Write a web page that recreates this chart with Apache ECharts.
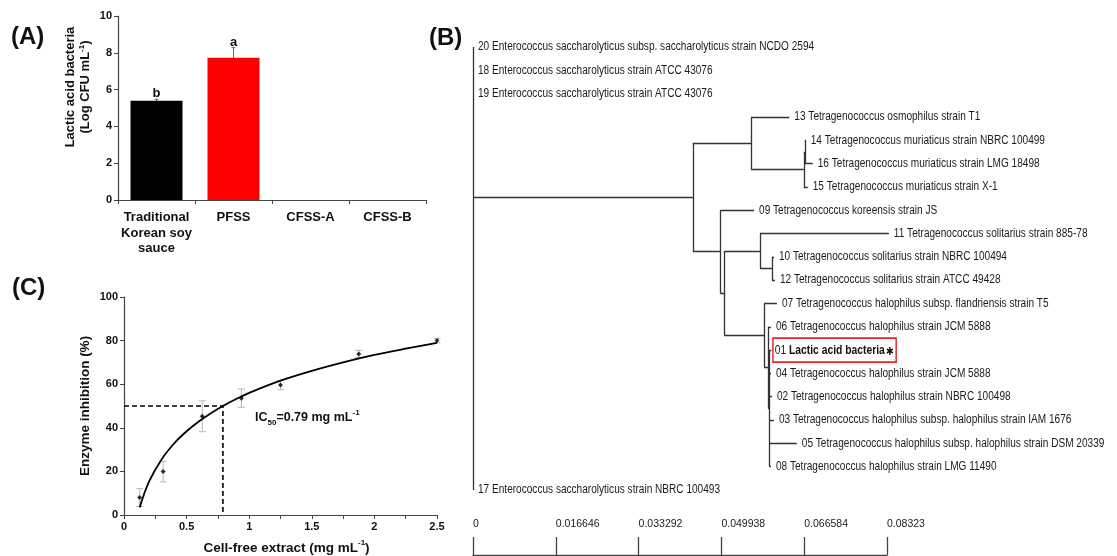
<!DOCTYPE html>
<html>
<head>
<meta charset="utf-8">
<title>Lactic acid bacteria / IC50 / tree</title>
<script src="https://cdn.jsdelivr.net/npm/echarts@6/dist/echarts.min.js"></script>
<style>
html, body { margin: 0; padding: 0; background: #fff; }
#chart { width: 1117px; height: 556px; }
</style>
</head>
<body>
<div id="chart"></div>
<script>
// (A) lactic acid bacteria counts
const sauceNames = ['Traditional\nKorean soy\nsauce', 'PFSS', 'CFSS-A', 'CFSS-B'];
const lacticCounts = [5.4, 7.73, 0, 0];
const lacticErrors = [0.08, 0.55, 0, 0];
const lacticLetters = ['b', 'a', '', ''];
const barColors = ['#000000', '#ff0000', '#000000', '#000000'];
const countTicks = [0, 10, 2];

// (C) enzyme inhibition
const extractDose = [0.125, 0.3125, 0.625, 0.9375, 1.25, 1.875, 2.5];
const inhibition = [8, 19.9, 45.3, 53.6, 59.6, 73.9, 80];
const inhibitionErr = [4.1, 4.7, 7.1, 4.2, 2.1, 1.6, 1];
const fitDose = [0.125, 0.2, 0.3, 0.4, 0.5, 0.6, 0.7, 0.79, 0.9, 1.0, 1.25, 1.5, 1.75, 2.0, 2.25, 2.5];
const fitInhibition = [3.5, 15.3, 25.5, 32.8, 38.4, 43, 46.9, 50, 53.3, 56, 61.6, 66.1, 70, 73.4, 76.3, 79];
const ic50Dose = 0.79;
const ic50Level = 50;

// (B) tree: leaves top to bottom, parent clade and distance from root
const leafLabels = [
  '20 Enterococcus saccharolyticus subsp. saccharolyticus strain NCDO 2594',
  '18 Enterococcus saccharolyticus strain ATCC 43076',
  '19 Enterococcus saccharolyticus strain ATCC 43076',
  '13 Tetragenococcus osmophilus strain T1',
  '14 Tetragenococcus muriaticus strain NBRC 100499',
  '16 Tetragenococcus muriaticus strain LMG 18498',
  '15 Tetragenococcus muriaticus strain X-1',
  '09 Tetragenococcus koreensis strain JS',
  '11 Tetragenococcus solitarius strain 885-78',
  '10 Tetragenococcus solitarius strain NBRC 100494',
  '12 Tetragenococcus solitarius strain ATCC 49428',
  '07 Tetragenococcus halophilus subsp. flandriensis strain T5',
  '06 Tetragenococcus halophilus strain JCM 5888',
  '01 Lactic acid bacteria',
  '04 Tetragenococcus halophilus strain JCM 5888',
  '02 Tetragenococcus halophilus strain NBRC 100498',
  '03 Tetragenococcus halophilus subsp. halophilus strain IAM 1676',
  '05 Tetragenococcus halophilus subsp. halophilus strain DSM 20339',
  '08 Tetragenococcus halophilus strain LMG 11490',
  '17 Enterococcus saccharolyticus strain NBRC 100493'
];
const leafParent = ['root', 'root', 'root', 'A', 'M2', 'M2', 'M', 'L', 'SOL', 'S3', 'S3',
  'HAL', 'H2', 'H3', 'H3', 'H3', 'H3', 'H3', 'H3', 'root'];
const leafDepth = [0, 0, 0, 0.0636, 0.0669, 0.0683, 0.0673, 0.0565, 0.0836, 0.0605, 0.0607,
  0.0611, 0.0599, 0.0600, 0.0599, 0.0601, 0.0605, 0.0651, 0.0599, 0];
const cladeNames = ['root', 'T', 'A', 'M', 'M2', 'L', 'S2', 'SOL', 'S3', 'HAL', 'H2', 'H3'];
const cladeParent = [null, 'root', 'T', 'A', 'M', 'T', 'L', 'S2', 'SOL', 'S2', 'HAL', 'H2'];
const cladeDepth = [0, 0.0442, 0.0559, 0.0665, 0.0667, 0.0497, 0.0505, 0.0577, 0.0601, 0.0585, 0.0593, 0.0596];
const scaleTicks = [0, 0.08323, 0.016646];

const boldFont = '"Liberation Sans", Arial, sans-serif';
const axisColor = '#444';
const narrowScale = 0.84;   // tree text is a horizontally squeezed sans

// ---- tree geometry (row units on y, distance on x)
const depthOf = {};
cladeNames.forEach((c, i) => { depthOf[c] = cladeDepth[i]; });
const rowOf = {};
const childRows = c => {
  const rows = [];
  leafParent.forEach((p, i) => { if (p === c) rows.push(i); });
  cladeParent.forEach((p, j) => { if (p === c) rows.push(cladeRow(cladeNames[j])); });
  return rows;
};
function cladeRow(c) {
  if (rowOf[c] == null) {
    const rows = childRows(c);
    rowOf[c] = (Math.min(...rows) + Math.max(...rows)) / 2;
  }
  return rowOf[c];
}
const treeSegments = [];
leafParent.forEach((p, i) => {
  if (leafDepth[i] > depthOf[p]) treeSegments.push({ coords: [[depthOf[p], i], [leafDepth[i], i]] });
});
cladeNames.forEach((c, j) => {
  const y = cladeRow(c);
  if (cladeParent[j]) treeSegments.push({ coords: [[depthOf[cladeParent[j]], y], [cladeDepth[j], y]] });
  const rows = childRows(c);
  treeSegments.push({ coords: [[cladeDepth[j], Math.min(...rows)], [cladeDepth[j], Math.max(...rows)]] });
});

const renderLeafLabel = (params, api) => {
  const name = leafLabels[params.dataIndex];
  const p = api.coord([api.value(0), api.value(1)]);
  if (name.indexOf('Lactic acid') > 0) {
    return {
      type: 'text', x: p[0] + 1.5, y: p[1], scaleX: 0.86,
      style: {
        text: '{n|01 }{b|Lactic acid bacteria}{s|✱}',
        verticalAlign: 'middle',
        borderColor: '#e3262b', borderWidth: 1.7,
        padding: [5, 3, 4, 2],
        rich: {
          n: { font: '12px ' + boldFont, fill: '#1a1a1a' },
          b: { font: 'bold 12px ' + boldFont, fill: '#111' },
          s: { font: '11px "DejaVu Sans"', fill: '#111', padding: [4, 0, 0, 1] }
        }
      }
    };
  }
  return {
    type: 'text', x: p[0] + 5, y: p[1], scaleX: narrowScale,
    style: { text: name, font: '12px ' + boldFont, fill: '#1a1a1a', verticalAlign: 'middle' }
  };
};

const chart = echarts.init(document.getElementById('chart'), null, { renderer: 'canvas' });

const valueAxisStyle = {
  axisLine: { show: true, lineStyle: { color: axisColor, width: 1.2 } },
  axisTick: { show: true, length: 4, lineStyle: { color: axisColor } },
  splitLine: { show: false },
  axisLabel: { color: '#111', fontFamily: boldFont, fontWeight: 'bold', fontSize: 11, margin: 6 }
};

chart.setOption({
  animation: false,
  backgroundColor: '#ffffff',
  grid: [
    { left: 118, top: 16, width: 308, height: 184 },
    { left: 124, top: 297, width: 313, height: 218 },
    { left: 473, top: 47, width: 0.09 * 4974, height: 443 },
    { left: 473, top: 537, width: 414, height: 18 }
  ],
  xAxis: [
    {
      gridIndex: 0, type: 'category', data: sauceNames,
      axisLine: { lineStyle: { color: axisColor, width: 1.2 } },
      axisTick: { show: true, length: 4, lineStyle: { color: axisColor } },
      axisLabel: {
        interval: 0, color: '#111', fontFamily: boldFont, fontWeight: 'bold',
        fontSize: 13, lineHeight: 15.5, margin: 10
      }
    },
    Object.assign({}, valueAxisStyle, {
      gridIndex: 1, type: 'value', min: 0, max: 2.5, interval: 0.5,
      minorTick: { show: true, splitNumber: 2, length: 4, lineStyle: { color: axisColor } },
      name: '{t|Cell-free extract (mg mL}{p|-1}{t|)}',
      nameLocation: 'middle', nameGap: 24,
      nameTextStyle: {
        padding: [0, 0, 0, 12],
        rich: {
          t: { fontFamily: boldFont, fontWeight: 'bold', fontSize: 13.5, color: '#111', lineHeight: 18 },
          p: { fontFamily: boldFont, fontWeight: 'bold', fontSize: 8, color: '#111', verticalAlign: 'top', lineHeight: 18 }
        }
      }
    }),
    { gridIndex: 2, type: 'value', min: 0, max: 0.09, show: false },
    {
      gridIndex: 3, type: 'value', min: scaleTicks[0], max: scaleTicks[1], interval: scaleTicks[2],
      axisLine: { show: true, lineStyle: { color: axisColor, width: 1.3 } },
      axisTick: { show: true, inside: true, length: 18, lineStyle: { color: axisColor, width: 1.3 } },
      splitLine: { show: false },
      axisLabel: {
        inside: true, margin: 25, align: 'left', color: '#1a1a1a',
        fontFamily: boldFont, fontSize: 10.5,
        formatter: v => String(parseFloat(v.toFixed(6)))
      }
    }
  ],
  yAxis: [
    Object.assign({}, valueAxisStyle, {
      gridIndex: 0, type: 'value', min: countTicks[0], max: countTicks[1], interval: countTicks[2]
    }),
    Object.assign({}, valueAxisStyle, {
      gridIndex: 1, type: 'value', min: 0, max: 100, interval: 20,
      name: 'Enzyme inhibition (%)', nameLocation: 'middle', nameGap: 32,
      nameTextStyle: { fontFamily: boldFont, fontWeight: 'bold', fontSize: 13.5, color: '#111' }
    }),
    { gridIndex: 2, type: 'value', min: 0, max: 19, inverse: true, show: false },
    { gridIndex: 3, type: 'value', show: false }
  ],
  series: [
    {
      type: 'bar', xAxisIndex: 0, yAxisIndex: 0, barWidth: 52,
      data: lacticCounts.map((v, i) => ({ value: v, itemStyle: { color: barColors[i] } }))
    },
    {
      type: 'custom', xAxisIndex: 0, yAxisIndex: 0,
      data: lacticCounts.map((v, i) => [i, v, lacticErrors[i]]),
      renderItem: (params, api) => {
        const v = api.value(1), e = api.value(2);
        if (!v) return null;
        const top = api.coord([api.value(0), v + e]);
        const bot = api.coord([api.value(0), v - e]);
        return {
          type: 'group',
          children: [
            { type: 'line', shape: { x1: top[0], y1: top[1], x2: bot[0], y2: bot[1] }, style: { stroke: '#666', lineWidth: 1 } },
            { type: 'line', shape: { x1: top[0] - 2, y1: top[1], x2: top[0] + 2, y2: top[1] }, style: { stroke: '#666', lineWidth: 1 } },
            {
              type: 'text', x: top[0], y: top[1] + 1,
              style: {
                text: lacticLetters[params.dataIndex], align: 'center', verticalAlign: 'bottom',
                font: 'bold 13px ' + boldFont, fill: '#111'
              }
            }
          ]
        };
      }
    },
    {
      type: 'custom', xAxisIndex: 1, yAxisIndex: 1, clip: false, z: 1,
      data: extractDose.map((x, i) => [x, inhibition[i], inhibitionErr[i]]),
      renderItem: (params, api) => {
        const x = api.value(0), y = api.value(1), e = api.value(2);
        const top = api.coord([x, y + e]);
        const bot = api.coord([x, y - e]);
        const st = { stroke: '#b8b8b8', lineWidth: 1 };
        return {
          type: 'group',
          children: [
            { type: 'line', shape: { x1: top[0], y1: top[1], x2: bot[0], y2: bot[1] }, style: st },
            { type: 'line', shape: { x1: top[0] - 3.5, y1: top[1], x2: top[0] + 3.5, y2: top[1] }, style: st },
            { type: 'line', shape: { x1: bot[0] - 3.5, y1: bot[1], x2: bot[0] + 3.5, y2: bot[1] }, style: st }
          ]
        };
      }
    },
    {
      type: 'scatter', xAxisIndex: 1, yAxisIndex: 1, symbol: 'diamond', symbolSize: 5, clip: false, z: 3,
      itemStyle: { color: '#000' },
      data: extractDose.map((x, i) => [x, inhibition[i]])
    },
    {
      type: 'line', xAxisIndex: 1, yAxisIndex: 1, smooth: 0.35, showSymbol: false, clip: false, z: 4,
      lineStyle: { color: '#000', width: 1.8 },
      data: fitDose.map((x, i) => [x, fitInhibition[i]])
    },
    {
      type: 'line', xAxisIndex: 1, yAxisIndex: 1, showSymbol: false, z: 2,
      lineStyle: { color: '#000', width: 1.6, type: [5, 3] },
      data: [[0, ic50Level], [ic50Dose, ic50Level], [ic50Dose, 0]]
    },
    {
      type: 'lines', xAxisIndex: 2, yAxisIndex: 2, coordinateSystem: 'cartesian2d',
      lineStyle: { color: '#333', width: 1.3, opacity: 1 },
      data: treeSegments
    },
    {
      type: 'custom', xAxisIndex: 2, yAxisIndex: 2, clip: false,
      data: leafDepth.map((d, i) => [d, i]),
      renderItem: renderLeafLabel
    }
  ],
  graphic: [
    { type: 'text', left: 11, top: 25, style: { text: '(A)', font: 'bold 24px ' + boldFont, fill: '#111' } },
    { type: 'text', left: 429, top: 26, style: { text: '(B)', font: 'bold 24px ' + boldFont, fill: '#111' } },
    { type: 'text', left: 12, top: 276, style: { text: '(C)', font: 'bold 24px ' + boldFont, fill: '#111' } },
    {
      type: 'text', x: 78, y: 87, rotation: Math.PI / 2,
      style: {
        text: '{t|Lactic acid bacteria}\n{t|(Log CFU mL}{p|-1}{t|)}',
        align: 'center', verticalAlign: 'middle',
        rich: {
          t: { fontFamily: boldFont, fontWeight: 'bold', fontSize: 13, fill: '#111', lineHeight: 15 },
          p: { fontFamily: boldFont, fontWeight: 'bold', fontSize: 8, fill: '#111', verticalAlign: 'top', lineHeight: 15 }
        }
      }
    },
    {
      type: 'text', left: 255, top: 409,
      style: {
        text: '{t|IC}{s|50}{t|=0.79 mg mL}{p|-1}',
        rich: {
          t: { fontFamily: boldFont, fontWeight: 'bold', fontSize: 12.5, fill: '#111', lineHeight: 18 },
          s: { fontFamily: boldFont, fontWeight: 'bold', fontSize: 8, fill: '#111', verticalAlign: 'bottom', lineHeight: 18 },
          p: { fontFamily: boldFont, fontWeight: 'bold', fontSize: 8, fill: '#111', verticalAlign: 'top', lineHeight: 18 }
        }
      }
    }
  ]
});
</script>
</body>
</html>
